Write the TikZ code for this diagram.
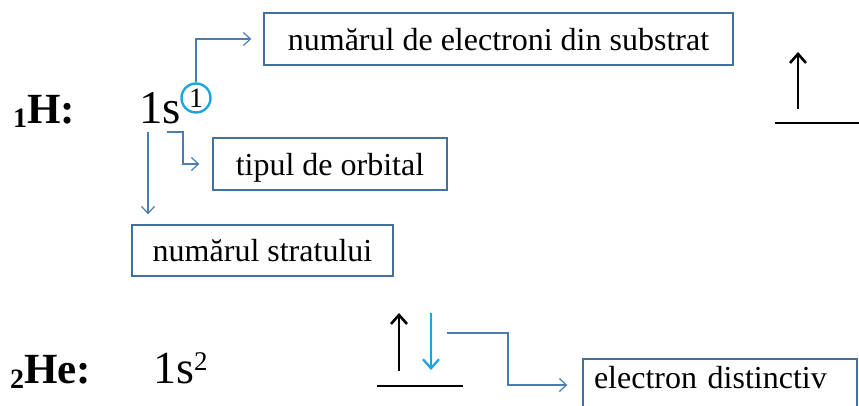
\documentclass[tikz,border=0pt]{standalone}
\usepackage{fontspec}
\setmainfont{Liberation Serif}
\usetikzlibrary{arrows.meta}
\definecolor{boxblue}{RGB}{65,113,156}
\definecolor{connblue}{RGB}{74,126,176}
\definecolor{cyanb}{RGB}{28,164,224}
\begin{document}
\begin{tikzpicture}[x=1pt,y=-1pt,
  lbl/.style={inner sep=0pt, anchor=base west},
  infobox/.style={draw=boxblue, line width=1.4pt, minimum height=52pt, inner sep=0pt,
    text height=22pt, text depth=0pt, font=\fontsize{32}{36}\selectfont, text=black},
  conn/.style={draw=connblue, line width=1.2pt, -{Straight Barb[length=7pt,width=13pt]}},
  spin/.style={line width=2.6pt, -{Straight Barb[length=9pt,width=16pt]}},
  level/.style={line width=2.8pt},
]
\useasboundingbox (0,0) rectangle (859,405);
\clip (0,0) rectangle (859,405);

% H
\node[lbl] (hlab) at (13,123) {\bfseries{\fontsize{28}{28}\selectfont\raisebox{-4pt}{1}}\fontsize{43}{43}\selectfont H:};
\node[lbl] (hconf) at (139,123) {\fontsize{47}{47}\selectfont 1s};
\node[circle, draw=cyanb, line width=2.4pt, minimum size=29pt, inner sep=0pt,
      font=\fontsize{28}{28}\selectfont] (c1) at (196,98) {1};

% He
\node[lbl] (helab) at (10,383) {\bfseries{\fontsize{28}{28}\selectfont\raisebox{-5pt}{2}}\fontsize{43}{43}\selectfont He:};
\node[lbl] (heconf) at (153,383) {\fontsize{46}{46}\selectfont 1s\raisebox{13pt}{\fontsize{27}{27}\selectfont 2}};

% boxes
\node[infobox, minimum width=469pt] (b1) at (498.5,39) {numărul de electroni din substrat};
\node[infobox, minimum width=234pt] (b2) at (330,164) {tipul de orbital};
\node[infobox, minimum width=261pt, minimum height=51pt] (b3) at (262.5,250.5) {numărul stratului};
\node[infobox, minimum width=274pt, text depth=16pt, text width=252pt, align=left] (b4) at (720,385) {electron distinctiv};

% connectors
\coordinate (sfoot) at (167,132);
\coordinate (onefoot) at (148,132);
\coordinate (efoot) at (447,333);
\draw[conn, shorten >=12pt] (c1.north) |- (b1.west);
\draw[conn, shorten >=13pt] (sfoot) -- ++(16,0) |- (b2.west);
\draw[conn, shorten >=10pt] (onefoot) -- (onefoot |- b3.north);
\draw[conn, shorten >=15pt] (efoot) -- ++(61,0) |- (b4.west);

% orbital diagrams
\draw[spin] (798,109) -- (798,52);
\draw[level] (775,123) -- (859,123);
\draw[spin] (399,371) -- (399,313);
\draw[spin, cyanb, line width=2.3pt] (431,313) -- (431,370);
\draw[level] (377,386) -- (463,386);
\end{tikzpicture}
\end{document}
